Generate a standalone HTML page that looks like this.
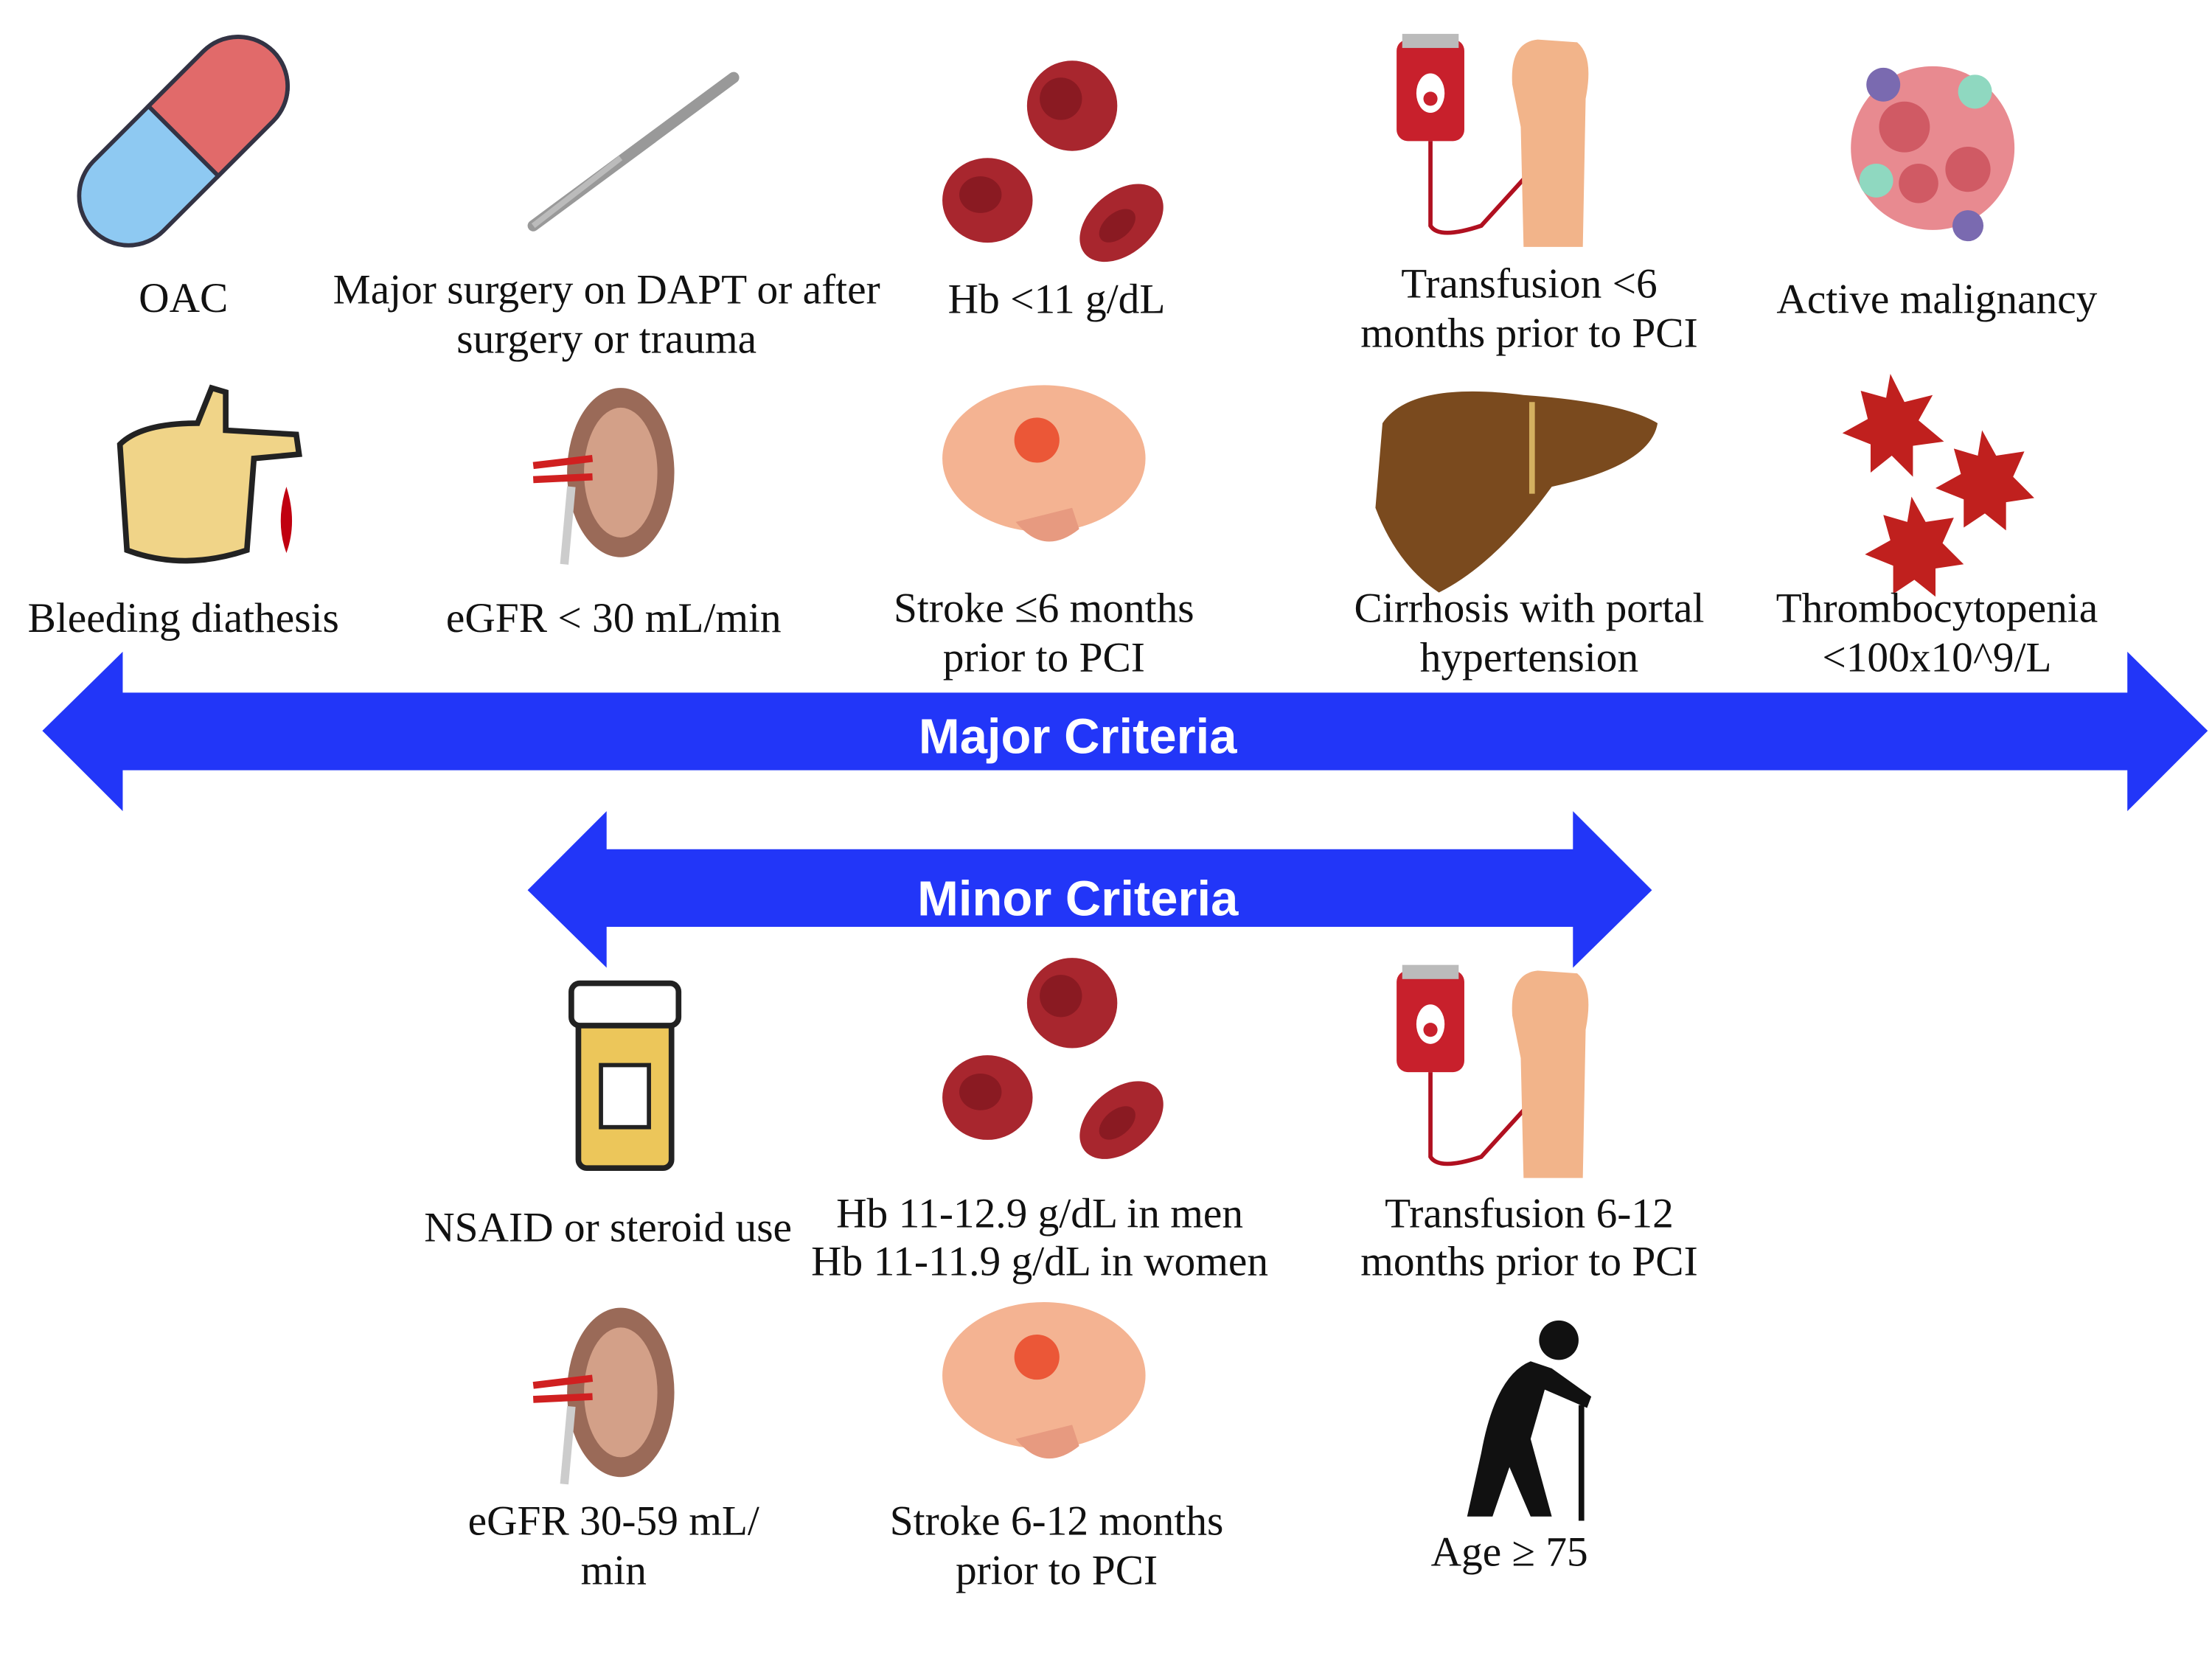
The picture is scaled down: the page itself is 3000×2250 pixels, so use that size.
<!DOCTYPE html>
<html><head><meta charset="utf-8"><style>
html,body{margin:0;padding:0;background:#fff;width:3000px;height:2250px;overflow:hidden}
svg{display:block}
.t{font-family:"Liberation Serif",serif;font-size:30px;fill:#111;text-anchor:middle}
.b{font-family:"Liberation Sans",sans-serif;font-weight:bold;font-size:35px;fill:#fff;text-anchor:middle}
</style></head><body>
<svg width="3000" height="2250" viewBox="0 0 1568 1176" xmlns="http://www.w3.org/2000/svg">
<defs>
<g id="rbc">
<circle cx="760" cy="75" r="32" fill="#a8262e"/><circle cx="752" cy="70" r="15" fill="#8a1a22"/>
<ellipse cx="700" cy="142" rx="32" ry="30" fill="#a8262e"/><ellipse cx="695" cy="138" rx="15" ry="13" fill="#8a1a22"/>
<ellipse cx="795" cy="158" rx="34" ry="22" transform="rotate(-40 795 158)" fill="#a8262e"/><ellipse cx="792" cy="160" rx="15" ry="9" transform="rotate(-40 792 160)" fill="#8a1a22"/>
</g>
<g id="trans">
<rect x="990" y="28" width="48" height="72" rx="8" fill="#c8202c"/><rect x="994" y="24" width="40" height="10" fill="#bbb"/>
<ellipse cx="1014" cy="66" rx="10" ry="14" fill="#fff"/><circle cx="1014" cy="70" r="5" fill="#c8202c"/>
<path d="M1014 100 V160 Q1020 170 1050 160 L1100 105" stroke="#b01020" stroke-width="3" fill="none"/>
<path d="M1072 60 Q1070 30 1090 28 L1118 30 Q1130 40 1124 70 L1122 175 L1080 175 L1078 90 Z" fill="#f2b48a"/>
</g>
<g id="kid">
<ellipse cx="440" cy="335" rx="38" ry="60" fill="#9a6a58"/><ellipse cx="440" cy="335" rx="26" ry="46" fill="#d3a088"/>
<path d="M378 330 L420 325 M378 340 L420 338" stroke="#d02020" stroke-width="5"/><path d="M405 345 L400 400" stroke="#ccc" stroke-width="6"/>
</g>
<g id="brain">
<ellipse cx="740" cy="325" rx="72" ry="52" fill="#f4b392"/><path d="M720 370 Q740 395 765 375 L760 360 Z" fill="#e79a80"/>
<circle cx="735" cy="312" r="16" fill="#e84020" opacity="0.8"/>
</g>
</defs>
<polygon points="30,518 87,462 87,491 1508,491 1508,462 1565,518 1508,575 1508,546 87,546 87,575" fill="#2236f8"/>
<polygon points="374,631 430,575 430,602 1115,602 1115,575 1171,631 1115,686 1115,657 430,657 430,686" fill="#2236f8"/>
<text class="b" x="764" y="534">Major Criteria</text>
<text class="b" x="764" y="649">Minor Criteria</text>
<g transform="rotate(-45 130 100)"><rect x="40" y="65" width="180" height="70" rx="35" fill="#8ec9f2" stroke="#334" stroke-width="3"/><path d="M130 65 H185 A35 35 0 0 1 185 135 H130 Z" fill="#e16a6a" stroke="#334" stroke-width="3"/></g>
<path d="M378 160 L520 55" stroke="#999" stroke-width="8" stroke-linecap="round"/><path d="M378 160 L440 112" stroke="#bbb" stroke-width="4"/>
<use href="#rbc"/>
<use href="#trans"/>
<g><circle cx="1370" cy="105" r="58" fill="#e88a90"/><circle cx="1350" cy="90" r="18" fill="#d05a64"/><circle cx="1395" cy="120" r="16" fill="#d05a64"/><circle cx="1360" cy="130" r="14" fill="#d05a64"/><circle cx="1400" cy="65" r="12" fill="#8fd8c0"/><circle cx="1330" cy="128" r="12" fill="#8fd8c0"/><circle cx="1335" cy="60" r="12" fill="#7a6ab0"/><circle cx="1395" cy="160" r="11" fill="#7a6ab0"/></g>
<path d="M85 315 Q100 300 140 300 L150 275 L160 278 L160 305 L210 308 L212 322 L180 325 L175 390 Q130 405 90 390 Z" fill="#f0d488" stroke="#222" stroke-width="4"/>
<path d="M203 345 Q195 370 203 392 Q211 370 203 345 Z" fill="#c00010"/>
<use href="#kid"/>
<use href="#brain"/>
<path d="M980 300 Q1000 270 1080 280 Q1150 285 1175 300 Q1170 330 1100 345 Q1060 400 1020 420 Q990 400 975 360 Z" fill="#7a4a1e"/>
<path d="M1086 285 L1086 350" stroke="#d4b060" stroke-width="4"/>
<g fill="#c0201e"><path d="M1340 265 l10 20 20 -5 -10 18 18 15 -22 3 0 22 -15 -15 -15 12 0 -20 -20 -8 18 -10 -5 -20 18 5z"/><path d="M1405 305 l10 18 20 -3 -8 18 15 15 -20 3 0 20 -15 -12 -15 10 0 -20 -20 -8 18 -10 -5 -18 17 5z"/><path d="M1355 352 l10 18 20 -3 -8 18 15 15 -20 3 0 20 -15 -12 -15 10 0 -20 -20 -8 18 -10 -5 -18 17 5z"/></g>
<rect x="410" y="722" width="66" height="106" rx="6" fill="#ecc65a" stroke="#222" stroke-width="4"/>
<rect x="405" y="697" width="76" height="30" rx="6" fill="#fff" stroke="#222" stroke-width="4"/>
<rect x="426" y="755" width="34" height="44" fill="#fff" stroke="#222" stroke-width="3"/>
<use href="#rbc" transform="translate(0 636)"/>
<use href="#trans" transform="translate(0 660)"/>
<use href="#kid" transform="translate(0 652)"/>
<use href="#brain" transform="translate(0 650)"/>
<g fill="#111"><circle cx="1105" cy="950" r="14"/><path d="M1085 965 Q1060 975 1050 1030 L1040 1075 L1058 1075 L1070 1040 L1085 1075 L1100 1075 L1085 1020 L1095 985 L1125 998 L1128 990 L1100 970 Z"/><rect x="1119" y="996" width="4" height="82"/></g>
<text class="t" x="130" y="221">OAC</text>
<text class="t" x="430" y="215">Major surgery on DAPT or after</text><text class="t" x="430" y="250">surgery or trauma</text>
<text class="t" x="749" y="222">Hb &lt;11 g/dL</text>
<text class="t" x="1084" y="211">Transfusion &lt;6</text><text class="t" x="1084" y="246">months prior to PCI</text>
<text class="t" x="1373" y="222">Active malignancy</text>
<text class="t" x="130" y="448">Bleeding diathesis</text>
<text class="t" x="435" y="448">eGFR &lt; 30 mL/min</text>
<text class="t" x="740" y="441">Stroke ≤6 months</text><text class="t" x="740" y="476">prior to PCI</text>
<text class="t" x="1084" y="441">Cirrhosis with portal</text><text class="t" x="1084" y="476">hypertension</text>
<text class="t" x="1373" y="441">Thrombocytopenia</text><text class="t" x="1373" y="476">&lt;100x10^9/L</text>
<text class="t" x="431" y="880">NSAID or steroid use</text>
<text class="t" x="737" y="870">Hb 11-12.9 g/dL in men</text><text class="t" x="737" y="904">Hb 11-11.9 g/dL in women</text>
<text class="t" x="1084" y="870">Transfusion 6-12</text><text class="t" x="1084" y="904">months prior to PCI</text>
<text class="t" x="435" y="1088">eGFR  30-59 mL/</text><text class="t" x="435" y="1123">min</text>
<text class="t" x="749" y="1088">Stroke 6-12 months</text><text class="t" x="749" y="1123">prior to PCI</text>
<text class="t" x="1070" y="1110">Age ≥ 75</text>
</svg>
</body></html>
